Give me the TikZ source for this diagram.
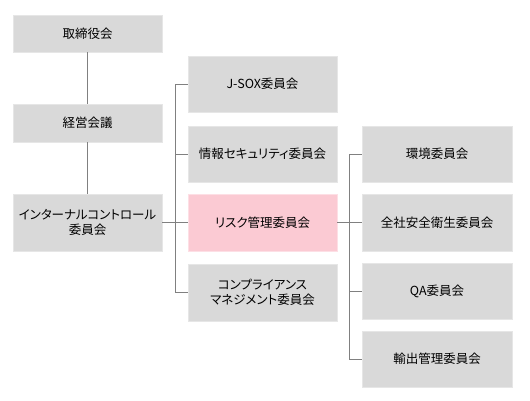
\documentclass[tikz,border=0pt]{standalone}
\usepackage{fontspec}
\setmainfont{Noto Sans CJK JP}[RawFeature=+palt]
\definecolor{boxgray}{HTML}{D9D9D9}
\definecolor{boxedge}{HTML}{E6E6E6}
\definecolor{boxpink}{HTML}{FBCAD3}
\definecolor{linegray}{HTML}{808080}
\begin{document}
\begin{tikzpicture}[x=1pt,y=-1pt,
  box/.style={draw=boxedge,line width=0.8pt,fill=boxgray,inner sep=0pt,align=center,font=\fontsize{12.5}{15}\selectfont},
  conn/.style={draw=linegray,line width=1pt}]
\useasboundingbox (0,0) rectangle (530,400);
\fill[white] (0,0) rectangle (530,400);
% column 1
\node[box,minimum width=149pt,minimum height=37pt] (b1) at (87.5,33.5) {取締役会};
\node[box,minimum width=149pt,minimum height=38pt] (b2) at (87.5,123) {経営会議};
\node[box,minimum width=149pt,minimum height=57pt] (b3) at (87.5,222.5) {インターナルコントロール\\委員会};
% column 2
\node[box,minimum width=149pt,minimum height=56pt] (c1) at (262.5,84) {J-SOX委員会};
\node[box,minimum width=149pt,minimum height=56pt] (c2) at (262.5,154) {情報セキュリティ委員会};
\node[box,fill=boxpink,draw=boxpink!60!white,minimum width=149pt,minimum height=57pt] (c3) at (262.5,222.5) {リスク管理委員会};
\node[box,minimum width=149pt,minimum height=57pt] (c4) at (262.5,292.5) {コンプライアンス\\マネジメント委員会};
% column 3
\node[box,minimum width=150pt,minimum height=56pt] (d1) at (437,154) {環境委員会};
\node[box,minimum width=150pt,minimum height=57pt] (d2) at (437,222.5) {全社安全衛生委員会};
\node[box,minimum width=150pt,minimum height=56pt] (d3) at (437,291) {QA委員会};
\node[box,minimum width=150pt,minimum height=56pt] (d4) at (437,359) {輸出管理委員会};
% connectors
\coordinate (bus1) at (175,222.5);
\coordinate (bus2) at (349.5,222.5);
\draw[conn] (b1) -- (b2);
\draw[conn] (b2) -- (b3);
\draw[conn] (b3) -- (c3);
\draw[conn] (c1.west) -- (c1.west -| bus1) |- (c4.west);
\draw[conn] (c2.west) -- (c2.west -| bus1);
\draw[conn] (c3) -- (d2);
\draw[conn] (d1.west) -- (d1.west -| bus2) |- (d4.west);
\draw[conn] (d3.west) -- (d3.west -| bus2);
\end{tikzpicture}
\end{document}
